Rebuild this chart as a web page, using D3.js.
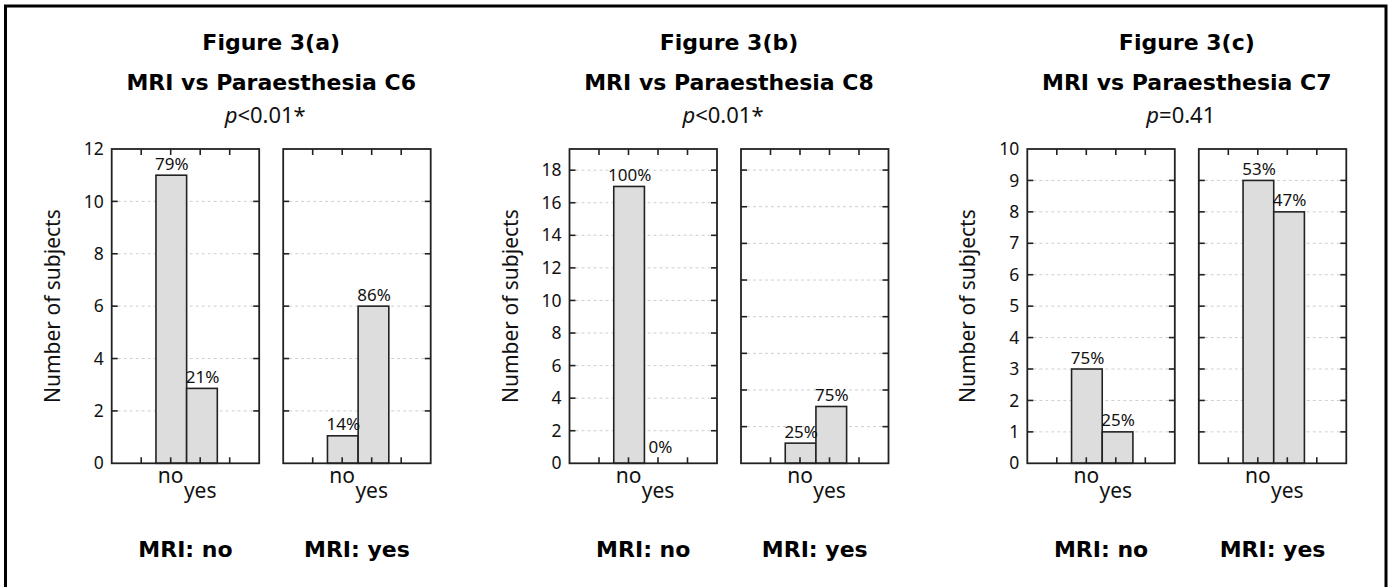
<!DOCTYPE html>
<html>
<head>
<meta charset="utf-8">
<script src="https://cdn.jsdelivr.net/npm/d3@7"></script>
<style>
  body { margin: 0; background: #fff; }
  svg { display: block; }
</style>
</head>
<body>
<div id="chart-area"></div>
<script>
// figure titles
var figures = ["Figure 3(a)", "Figure 3(b)", "Figure 3(c)"];
var subtitles = ["MRI vs Paraesthesia C6", "MRI vs Paraesthesia C8", "MRI vs Paraesthesia C7"];
var pvalues = ["<0.01*", "<0.01*", "=0.41"];

// x categories inside each small panel, and the panel names
var categories = ["no", "yes"];
var mriLabels = ["MRI: no", "MRI: yes"];

// counts per figure: [MRI no panel, MRI yes panel], each [paraesthesia no, yes]
var countsA = [[11, 2.86], [1.05, 6]];
var countsB = [[17, 0], [1.1, 3.1]];
var countsC = [[3, 1], [9, 8]];

var pctA = [["79%", "21%"], ["14%", "86%"]];
var pctB = [["100%", "0%"], ["25%", "75%"]];
var pctC = [["75%", "25%"], ["53%", "47%"]];

// y axis max and tick step for each panel
var yMaxA = [12, 12];
var yMaxB = [19.3, 17.15];
var yMaxC = [10, 10];
var tickStep = [2, 2, 1];

var allCounts = [countsA, countsB, countsC];
var allPct = [pctA, pctB, pctC];
var allMax = [yMaxA, yMaxB, yMaxC];

var W = 1394, H = 587;
var svg = d3.select("#chart-area").append("svg").attr("width", W).attr("height", H);

var boldFont = "'DejaVu Sans', sans-serif";
var regFont = "'Noto Sans', sans-serif";

// outer frame (open at the bottom)
svg.append("rect")
    .attr("x", 5.5).attr("y", 6)
    .attr("width", 1380.5).attr("height", H + 20)
    .attr("fill", "none").attr("stroke", "#000").attr("stroke-width", 3);

var plotTop = 149, plotBottom = 463.3;
var pw = 147.5, gap = 24;
var groupX = d3.scaleLinear().domain([0, 1]).range([111.7, 569.5]);

var x = d3.scaleLinear().domain([0, 5]).range([0, pw]);

allCounts.forEach(function(counts, gi) {
    var gx = groupX(gi);
    var g = svg.append("g").attr("transform", "translate(" + gx + ",0)");
    var cx = (2 * pw + gap) / 2;

    g.append("text").text(figures[gi])
        .attr("x", cx).attr("y", 50)
        .attr("text-anchor", "middle")
        .attr("font-family", boldFont).attr("font-weight", "bold").attr("font-size", "22px");
    g.append("text").text(subtitles[gi])
        .attr("x", cx).attr("y", 90)
        .attr("text-anchor", "middle")
        .attr("font-family", boldFont).attr("font-weight", "bold").attr("font-size", "22px");
    var pt = g.append("text")
        .attr("x", cx - 6).attr("y", 123)
        .attr("text-anchor", "middle")
        .attr("font-family", regFont).attr("font-size", "22px").attr("fill", "#111");
    pt.append("tspan").attr("font-style", "italic").text("p");
    pt.append("tspan").text(pvalues[gi]);

    // y label
    g.append("text").text("Number of subjects")
        .attr("transform", "translate(-52," + ((plotTop + plotBottom) / 2) + ") rotate(-90)")
        .attr("text-anchor", "middle")
        .attr("font-family", regFont).attr("font-size", "21px")
        .attr("fill", "#111");

    counts.forEach(function(vals, pi) {
        var px = pi * (pw + gap);
        var p = g.append("g").attr("transform", "translate(" + px + ",0)");
        var ymax = allMax[gi][pi];
        var step = tickStep[gi];
        var y = d3.scaleLinear().domain([0, ymax]).range([plotBottom, plotTop]);
        var yt = d3.range(0, ymax + 0.001, step);
        var inner = yt.filter(function(d) { return d > 0 && y(d) > plotTop + 2; });

        // dashed grid
        p.selectAll(".grid").data(inner).enter().append("line")
            .attr("x1", 0).attr("x2", pw)
            .attr("y1", function(d) { return y(d); })
            .attr("y2", function(d) { return y(d); })
            .attr("stroke", "#cfcfcf").attr("stroke-width", 1)
            .attr("stroke-dasharray", "3,3");

        // bars
        p.selectAll(".bar").data(vals).enter().append("rect")
            .attr("x", function(d, i) { return x(1.5 + i * 1.04); })
            .attr("width", x(1.04) - x(0))
            .attr("y", function(d) { return y(d); })
            .attr("height", function(d) { return plotBottom - y(d); })
            .attr("fill", "#dddddd").attr("stroke", "#222").attr("stroke-width", 1.6);

        // percent labels
        p.selectAll(".pct").data(vals).enter().append("text")
            .text(function(d, i) { return allPct[gi][pi][i]; })
            .attr("x", function(d, i) { return x(2.04 + i * 1.04); })
            .attr("y", function(d) { return y(d) - (d === 0 ? 10 : 5.5); })
            .attr("text-anchor", "middle")
            .attr("font-family", regFont).attr("font-size", "17px").attr("fill", "#111");

        // inward ticks on left and right edges
        p.selectAll(".tl").data(inner).enter().append("line")
            .attr("x1", 0).attr("x2", 6)
            .attr("y1", function(d) { return y(d); }).attr("y2", function(d) { return y(d); })
            .attr("stroke", "#222").attr("stroke-width", 1.6);
        p.selectAll(".tr").data(inner).enter().append("line")
            .attr("x1", pw - 6).attr("x2", pw)
            .attr("y1", function(d) { return y(d); }).attr("y2", function(d) { return y(d); })
            .attr("stroke", "#222").attr("stroke-width", 1.6);

        // inward ticks on top and bottom edges
        var xt = [1, 2, 3, 4];
        p.selectAll(".tt").data(xt).enter().append("line")
            .attr("x1", function(d) { return x(d); }).attr("x2", function(d) { return x(d); })
            .attr("y1", plotTop).attr("y2", plotTop + 6)
            .attr("stroke", "#222").attr("stroke-width", 1.6);
        p.selectAll(".tb").data(xt).enter().append("line")
            .attr("x1", function(d) { return x(d); }).attr("x2", function(d) { return x(d); })
            .attr("y1", plotBottom - 6).attr("y2", plotBottom)
            .attr("stroke", "#222").attr("stroke-width", 1.6);

        // frame
        p.append("rect")
            .attr("x", 0).attr("y", plotTop).attr("width", pw).attr("height", plotBottom - plotTop)
            .attr("fill", "none").attr("stroke", "#222").attr("stroke-width", 1.8);

        // y tick labels only on the first panel
        if (pi === 0) {
            p.selectAll(".yl").data(yt).enter().append("text")
                .text(function(d) { return d; })
                .attr("x", -8)
                .attr("y", function(d) { return y(d); })
                .attr("dy", "0.35em")
                .attr("text-anchor", "end")
                .attr("font-family", regFont).attr("font-size", "17.5px").attr("fill", "#111");
        }

        // category labels
        p.selectAll(".cat").data(categories).enter().append("text")
            .text(function(d) { return d; })
            .attr("x", function(d, i) { return x(2 + i); })
            .attr("y", function(d, i) { return i === 0 ? 483 : 498; })
            .attr("text-anchor", "middle")
            .attr("font-family", regFont).attr("font-size", "21px").attr("fill", "#111");

        p.append("text").text(mriLabels[pi])
            .attr("x", pw / 2).attr("y", 557)
            .attr("text-anchor", "middle")
            .attr("font-family", boldFont).attr("font-weight", "bold").attr("font-size", "22px");
    });
});
</script>
</body>
</html>
